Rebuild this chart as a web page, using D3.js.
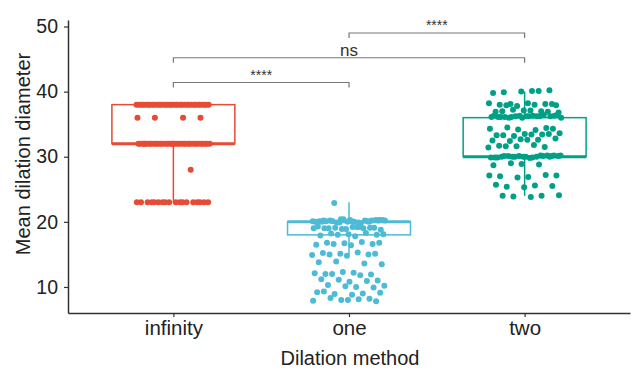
<!DOCTYPE html>
<html>
<head>
<meta charset="utf-8">
<script src="https://cdn.jsdelivr.net/npm/d3@7"></script>
<style>
  body { margin: 0; background: #fff; }
  svg { font-family: "Liberation Sans", Arial, sans-serif; }
</style>
</head>
<body>
<svg id="chart" width="632" height="370"></svg>
<script>
// categories and colours
const methods = ["infinity", "one", "two"];
const colors = ["#E64B35", "#4DBBD5", "#00A087"];

// box stats: [low whisker, q1, median, q3, high whisker]
const boxInfinity = [23, 32, 32, 38, 38];
const boxOne = [15, 18, 20, 20, 23];
const boxTwo = [24, 30, 30, 36, 40];

// infinity points are on a few levels only: level / count
const infinityLevels = [38, 36, 32, 28, 23];
const infinityCounts = [34, 4, 36, 1, 18];

const oneValues = [22.9,
  20.3, 20.1, 20.2, 20.0, 20.4, 20.1, 19.9, 20.2, 20.3, 20.0, 20.1, 20.2, 19.9, 20.3,
  20.0, 20.1, 20.2, 20.4, 20.0, 19.8, 20.1, 20.2, 20.3, 20.0, 20.1, 19.9, 20.2,
  19.2, 19.0, 19.1, 18.9, 19.3, 19.0, 19.1, 18.8, 19.2, 19.0, 19.1, 18.9, 19.0, 19.2,
  18.2, 18.0, 18.1, 17.9, 18.3, 18.0, 18.1, 17.8,
  16.8, 16.6, 16.7, 16.5, 16.9, 16.6, 16.8, 16.4,
  15.2, 15.0, 15.1, 14.9, 15.3, 15.0, 15.1, 14.8,
  13.8, 13.6, 13.9, 13.5,
  12.2, 12.0, 11.9, 12.3, 12.1, 11.8, 12.0,
  11.0, 10.8, 11.2, 10.9, 11.1,
  10.2, 10.0, 10.3, 9.9, 10.1,
  9.2, 9.0, 8.9, 9.1, 8.8, 9.3,
  8.2, 8.0, 7.9, 8.1, 8.3, 7.8, 8.0];

const twoValues = [40.1, 39.9, 40.2, 40.0, 39.8, 40.1,
  38.1, 37.9, 38.2, 38.0, 38.1, 37.8, 38.2, 38.0, 37.9, 38.1,
  37.1, 36.9, 37.0, 37.2, 36.8, 37.1, 37.0, 36.9,
  36.3, 36.1, 36.2, 36.0, 36.3, 36.2, 36.1, 36.4, 36.2, 36.0, 36.3, 36.1, 36.2, 36.0,
  36.3, 36.2, 36.1, 36.4, 36.2, 36.1,
  34.4, 34.2, 34.3, 34.1, 34.5, 34.3,
  33.5, 33.3, 33.4, 33.2, 33.6, 33.4, 33.3, 33.5,
  32.7, 32.5, 32.6, 32.4, 32.8, 32.6,
  31.7, 31.5, 31.6, 31.4, 31.8, 31.6,
  30.1, 30.0, 29.9, 30.2, 30.0, 30.1, 29.8, 30.0, 30.2, 30.1, 29.9, 30.0, 30.1, 30.2,
  30.0, 29.9, 30.1, 30.0, 30.2, 29.9, 30.1, 30.0,
  28.9, 28.7, 28.8, 29.0,
  27.1, 26.9, 27.0, 27.2, 26.8, 27.1,
  25.6, 25.4, 25.5, 25.3, 25.7,
  24.0, 23.9, 24.1, 23.8, 24.0];

// significance brackets: [from, to, level, label]
const brackets = [
  ["infinity", "one", 41.4, "****"],
  ["infinity", "two", 45.2, "ns"],
  ["one", "two", 49.0, "****"]
];

const yTicks = [10, 20, 30, 40, 50];

const svg = d3.select("#chart");

const x = d3.scalePoint()
  .domain(methods)
  .range([68, 630])
  .padding(0.6);

const y = d3.scaleLinear()
  .domain([6, 51])
  .range([313, 20]);

const infinityValues = [];
infinityLevels.forEach((v, i) => {
  for (let k = 0; k < infinityCounts[i]; k++) infinityValues.push(v);
});

const groups = [
  { name: "infinity", stats: boxInfinity, values: infinityValues },
  { name: "one", stats: boxOne, values: oneValues },
  { name: "two", stats: boxTwo, values: twoValues }
];

const boxW = x.step() * 0.7;
const jitterW = x.step() * 0.21;

// boxes
groups.forEach((g, gi) => {
  const cx = x(g.name);
  const [lo, q1, med, q3, hi] = g.stats;
  const c = colors[gi];
  const box = svg.append("g");
  box.append("line")
    .attr("x1", cx).attr("x2", cx)
    .attr("y1", y(hi)).attr("y2", y(q3))
    .attr("stroke", c).attr("stroke-width", 1.5);
  box.append("line")
    .attr("x1", cx).attr("x2", cx)
    .attr("y1", y(q1)).attr("y2", y(lo))
    .attr("stroke", c).attr("stroke-width", 1.5);
  box.append("rect")
    .attr("x", cx - boxW / 2)
    .attr("y", y(q3))
    .attr("width", boxW)
    .attr("height", y(q1) - y(q3))
    .attr("fill", "white")
    .attr("stroke", c)
    .attr("stroke-width", 1.5);
  box.append("line")
    .attr("x1", cx - boxW / 2).attr("x2", cx + boxW / 2)
    .attr("y1", y(med)).attr("y2", y(med))
    .attr("stroke", c).attr("stroke-width", 3);
});

// jittered points (fixed, not random, horizontal spread)
groups.forEach((g, gi) => {
  svg.append("g")
    .selectAll("circle")
    .data(g.values)
    .enter()
    .append("circle")
    .attr("cx", (d, i) => x(g.name) + (((i * 0.618034 + gi * 0.3) % 1) - 0.5) * 2 * jitterW)
    .attr("cy", d => y(d))
    .attr("r", 3)
    .attr("fill", colors[gi]);
});

// axes
const yAxis = svg.append("g")
  .attr("transform", "translate(68,0)")
  .call(d3.axisLeft(y).tickValues(yTicks).tickSize(4).tickSizeOuter(0).tickPadding(6));
yAxis.selectAll("text").attr("font-size", 19.5).attr("fill", "#222");

const xAxis = svg.append("g")
  .attr("transform", "translate(0,313)")
  .call(d3.axisBottom(x).tickSize(4).tickSizeOuter(0).tickPadding(3));
xAxis.selectAll("text").attr("font-size", 20.5).attr("fill", "#222");

svg.selectAll(".domain").attr("stroke", "#333").attr("stroke-width", 1.5);
svg.selectAll(".tick line").attr("stroke", "#333").attr("stroke-width", 1.2);

// axis titles
svg.append("text")
  .attr("transform", "translate(30,154) rotate(-90)")
  .attr("text-anchor", "middle")
  .attr("font-size", 20)
  .attr("fill", "#222")
  .text("Mean dilation diameter");

svg.append("text")
  .attr("x", 350)
  .attr("y", 365)
  .attr("text-anchor", "middle")
  .attr("font-size", 20)
  .attr("fill", "#222")
  .text("Dilation method");

// significance brackets
brackets.forEach(b => {
  const x1 = x(b[0]), x2 = x(b[1]), yy = y(b[2]);
  svg.append("path")
    .attr("d", `M${x1},${yy + 5}V${yy}H${x2}V${yy + 5}`)
    .attr("fill", "none")
    .attr("stroke", "#777")
    .attr("stroke-width", 1.2);
  const ns = b[3] === "ns";
  svg.append("text")
    .attr("x", (x1 + x2) / 2)
    .attr("y", ns ? yy - 1.5 : yy - 3)
    .attr("text-anchor", "middle")
    .attr("font-size", ns ? 17 : 14)
    .attr("fill", "#333")
    .text(b[3]);
});
</script>
</body>
</html>
